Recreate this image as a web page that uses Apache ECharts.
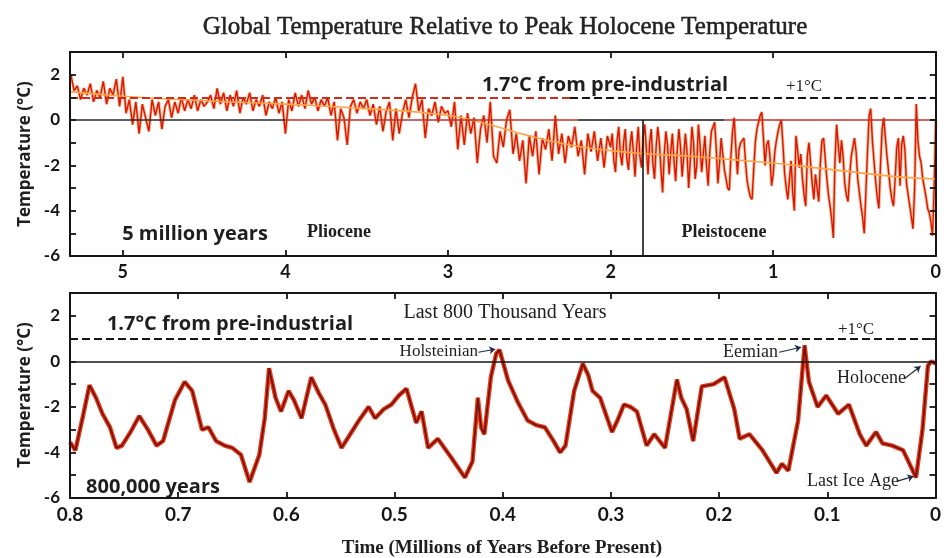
<!DOCTYPE html>
<html><head><meta charset="utf-8">
<script src="https://cdn.jsdelivr.net/npm/echarts@6.0.0/dist/echarts.min.js"></script>
<style>html,body{margin:0;padding:0;background:#fff}#c{width:944px;height:558px;background:#fff}</style>
</head><body><div id="c"></div><script>
// ---------- DATA ----------
// Top panel (5 million years), Pliocene part: ages 5.32 -> 2.02, every 0.02 Myr
const plioStart = 5.32, plioStep = 0.02;
const plioTemps = [
 2.0,1.3,1.5,0.9,1.4,1.1,1.6,0.8,1.3,1.0,1.7,0.7,1.4,1.1,1.8,0.6,1.9,
 0.3,0.9,-0.2,0.8,-0.6,0.7,0.1,-0.5,0.9,0.2,0.8,-0.4,0.6,0.9,0.1,0.8,0.3,1.0,0.4,0.9,0.5,1.1,0.4,0.9,0.6,
 0.8,1.1,0.5,1.4,0.7,1.2,0.4,1.1,0.6,1.3,0.3,1.0,0.7,1.2,0.4,0.9,0.6,1.1,0.2,0.8,0.5,1.0,0.3,0.8,
 -0.6,
 0.9,0.4,1.2,0.6,1.1,0.5,1.3,0.7,1.0,0.4,0.9,0.6,1.0,0.2,0.8,-0.9,0.5,0.1,-1.1,0.6,0.9,0.3,0.8,0.5,
 0.9,0.2,0.7,-0.2,0.6,-0.5,0.4,0.8,-0.9,0.5,-0.6,0.3,0.9,0.1,1.0,1.6,0.4,0.9,-0.8,0.5,0.2,0.8,-0.1,0.6,0.3,
 0.4,-0.3,0.8,-1.3,0.2,-1.1,0.3,-0.6,0.1,-1.9,-0.4,0.2,-1.0,0.8,-1.6,-1.9,-0.5,-1.2,0.0,0.45,-1.5,-0.6,-1.8,-0.9,-2.8,
 -0.7,-1.6,-0.5,-2.4,-0.8,-1.3,-0.4,-1.8,0.2,-1.5,-0.6,-1.9,-0.7,-1.2,-0.3,-1.6,-0.9,-2.4,-0.6,-1.4,-0.5,-1.8,-0.8,-2.1,-0.7
];
// Pleistocene part: ages 2.00 -> 0.00, every 0.01 Myr
const pleiStart = 2.00, pleiStep = 0.01;
const pleiTemps = [
 -1.2,-0.6,-1.8,-2.3,-0.9,-0.3,-1.5,-2.0,-1.0,-0.4,-1.7,-2.2,-1.1,-0.5,-1.4,-2.5,-1.2,-0.3,-1.6,-2.1,
 -0.8,-0.2,-1.3,-2.4,-1.0,-0.4,-1.9,-2.6,-1.2,-0.3,-1.0,-2.2,-3.2,-1.5,-0.5,-1.1,-2.4,-1.4,-0.6,-1.8,
 -2.7,-1.3,-0.4,-1.2,-2.5,-1.6,-0.6,-1.4,-3.0,-1.8,-0.3,-1.0,-2.6,-2.0,-0.2,-1.1,-2.3,-1.5,-0.7,-2.0,
 -2.9,-1.4,-0.5,-0.3,-0.1,-1.3,-2.8,-1.9,-0.8,-1.5,-2.2,-2.6,-3.0,-3.1,-1.6,-0.5,0.1,-1.2,-2.4,-1.3,
 -1.0,-0.9,-0.8,-1.9,-2.7,-3.1,-3.4,-3.5,-2.2,-1.0,-0.4,-0.1,0.2,0.35,-0.8,-2.0,-1.1,-0.9,-1.6,-2.9,
 -2.4,-1.4,-0.9,-0.5,-0.2,0.0,-1.1,-2.3,-3.0,-3.5,-2.6,-1.8,-3.2,-4.0,-0.7,-1.3,-2.1,-1.5,-2.6,-3.3,
 -3.8,-1.6,-1.0,-1.9,-2.8,-3.5,-2.4,-3.0,-3.6,-1.9,-0.9,-0.8,-1.7,-2.6,-3.3,-3.8,-4.4,-5.2,-1.8,-0.2,
 -1.1,-1.9,-0.9,-1.6,-2.8,-3.3,-3.6,-2.5,-1.6,-1.2,-0.8,-1.4,-2.6,-3.2,-3.8,-4.3,-5.0,-3.2,-1.4,0.2,
 0.5,-0.9,-1.8,-2.7,-3.4,-3.9,-2.0,-0.4,0.1,-0.8,-1.6,-2.3,-3.0,-3.5,-3.8,-2.6,-1.2,-0.8,-2.9,-1.1,
 -0.7,-1.3,-2.8,-3.3,-3.8,-4.3,-4.8,-3.0,0.7,-0.9,-1.6,-1.9,-2.6,-3.0,-3.4,-3.9,-4.1,-4.5,-5.1,-3.0,
 0.0
];
// Smoothed trend (top panel)
const trendAges  = [5.325,5.0,4.5,4.0,3.5,3.0,2.75,2.5,2.25,2.0,1.75,1.5,1.25,1.0,0.75,0.5,0.25,0.0];
const trendTemps = [1.25,1.05,0.85,0.7,0.5,0.2,-0.2,-0.7,-1.1,-1.35,-1.5,-1.6,-1.75,-1.9,-2.1,-2.3,-2.5,-2.6];
const pleistoceneStart = 1.8;

// Bottom panel (800,000 years)
const botAges = [0.800,0.795,0.788,0.782,0.776,0.770,0.763,0.757,0.752,0.744,0.736,0.728,0.720,0.714,0.703,0.694,0.687,0.678,0.672,0.665,
 0.657,0.650,0.642,0.634,0.625,0.620,0.616,0.610,0.605,0.598,0.593,0.586,0.577,0.570,0.564,0.556,0.549,0.541,0.533,0.524,
 0.518,0.510,0.503,0.496,0.489,0.480,0.475,0.469,0.460,0.448,0.435,0.428,0.423,0.420,0.417,0.411,0.406,0.403,0.395,0.386,
 0.377,0.369,0.361,0.353,0.347,0.342,0.334,0.326,0.321,0.317,0.310,0.299,0.294,0.288,0.282,0.276,0.267,0.260,0.250,0.239,
 0.235,0.230,0.224,0.216,0.205,0.195,0.186,0.181,0.172,0.160,0.147,0.142,0.136,0.127,0.121,0.117,0.109,0.101,0.090,0.080,
 0.070,0.064,0.055,0.049,0.040,0.030,0.018,0.012,0.007,0.004,0.000];
const botTemps = [-3.55,-3.9,-2.4,-1.05,-1.6,-2.3,-2.9,-3.8,-3.7,-3.1,-2.4,-3.0,-3.7,-3.5,-1.7,-0.9,-1.3,-3.0,-2.9,-3.5,
 -3.7,-3.8,-4.1,-5.3,-4.1,-2.5,-0.3,-1.6,-2.2,-1.3,-1.7,-2.5,-0.7,-1.4,-1.9,-3.0,-3.8,-3.2,-2.6,-2.0,
 -2.5,-2.1,-1.9,-1.5,-1.2,-2.7,-2.2,-3.8,-3.4,-4.2,-5.1,-4.4,-1.6,-2.9,-3.2,-0.7,0.35,0.5,-0.85,-1.8,
 -2.6,-2.8,-2.9,-3.5,-4.0,-3.7,-1.3,-0.1,-0.6,-1.3,-1.6,-3.1,-2.6,-1.9,-2.0,-2.2,-3.7,-3.2,-3.8,-0.8,
 -1.6,-2.1,-3.5,-1.1,-1.0,-0.7,-2.1,-3.4,-3.2,-3.9,-4.9,-4.5,-4.8,-2.6,0.7,-0.9,-2.0,-1.5,-2.3,-1.9,
 -3.2,-3.7,-3.1,-3.6,-3.7,-3.9,-5.1,-3.0,-0.2,0.0,-0.1];

const preIndustrialLevel = 1; // dashed line (+1°C)

// ---------- BUILD ----------
const topData = [];
plioTemps.forEach((t,i)=>topData.push([+(plioStart - plioStep*i).toFixed(3), t]));
pleiTemps.forEach((t,i)=>topData.push([+(pleiStart - pleiStep*i).toFixed(3), t]));
const trendData = trendAges.map((a,i)=>[a, trendTemps[i]]);
const botData = botAges.map((a,i)=>[a, botTemps[i]]);

const SANS = '"Open Sans", "Lato", sans-serif';
const SERIF = '"Liberation Serif", "DejaVu Serif", serif';
const INK = '#151515';

const mkTick = () => ({show:true, inside:true, length:6, lineStyle:{color:INK, width:1.8}});
const mkMinor = () => ({show:true, splitNumber:2, length:6, lineStyle:{color:INK, width:1.8}});
const mkLine = () => ({show:true, onZero:false, lineStyle:{color:INK, width:2}});
const labelFont = {color:INK, fontFamily:'Lato', fontWeight:'bold'};
function xAxis(grid, pos, max, interval, labels) {
  return {type:'value', gridIndex:grid, position:pos, min:0, max:max, interval:interval, inverse:true,
    zlevel:1, z:20,
    axisLine:mkLine(), splitLine:{show:false}, axisTick:mkTick(),
    axisLabel:Object.assign({show:labels, margin:7, fontSize: grid===0?18:19, showMaxLabel: grid!==0,
      formatter: v => { const r = Math.round(v*10)/10; return grid===0 ? String(Math.round(v)) : (r===0 ? '0' : r.toFixed(1)); }}, labelFont)};
}
function yAxis(grid, pos, labels) {
  return {type:'value', gridIndex:grid, position:pos, min:-6, max:3, interval:2,
    zlevel:1, z:20,
    axisLine:mkLine(), splitLine:{show:false}, axisTick:mkTick(), minorTick:mkMinor(), minorSplitLine:{show:false},
    axisLabel:Object.assign({show:labels, margin:10, fontSize:17, showMaxLabel:false}, labelFont)};
}

const chart = echarts.init(document.getElementById('c'));

const hline = (x0,x1,y,color,type,width)=>[{coord:[x0,y], lineStyle:{color,type,width}},{coord:[x1,y]}];
const arrow = (a0,t0,a1,t1)=>[{coord:[a0,t0]},{coord:[a1,t1]}];
const txt = (x,y,text,font,align,rot)=>({type:'text', x, y, z:50, rotation:rot||0,
  style:{text, font, fill:'#1e1e1e', align:align||'center', verticalAlign:'middle'}});

const option = {
  animation:false,
  grid:[
    {left:70, top:52, width:869, height:204, show:false},
    {left:70, top:293, width:869, height:205, show:false}
  ],
  xAxis:[ xAxis(0,'bottom',5.325,1,true), xAxis(0,'top',5.325,1,false),
          xAxis(1,'bottom',0.8,0.1,true), xAxis(1,'top',0.8,0.1,false) ],
  yAxis:[ yAxis(0,'left',true), yAxis(0,'right',false),
          yAxis(1,'left',true), yAxis(1,'right',false) ],
  series:[
    {type:'line', xAxisIndex:0, yAxisIndex:0, data:trendData, showSymbol:false, silent:true, z:1,
     lineStyle:{opacity:0},
     markLine:{silent:true, symbol:['none','none'], label:{show:false}, animation:false, data:[
       hline(5.325,2.25,preIndustrialLevel,'#d42a1a','dashed',2),
       hline(2.25,0,preIndustrialLevel,INK,'dashed',2),
       hline(5.325,4.0,0,'#2a2a2a','solid',1.6),
       hline(4.0,2.2,0,'#c0302a','solid',1.6),
       hline(2.2,1.3,0,INK,'solid',1.6),
       hline(1.3,0,0,'#c0302a','solid',1.6),
       [{coord:[pleistoceneStart,0], lineStyle:{color:INK,type:'solid',width:1.6}},{coord:[pleistoceneStart,-6]}]
     ]}},
    {type:'line', xAxisIndex:0, yAxisIndex:0, data:topData, showSymbol:false, z:2,
     lineStyle:{color:'#ff7a30', width:3.2, opacity:0.55}},
    {type:'line', xAxisIndex:0, yAxisIndex:0, data:topData, showSymbol:false, z:3,
     lineStyle:{color:'#d41808', width:1.4}},
    {type:'line', xAxisIndex:0, yAxisIndex:0, data:trendData, showSymbol:false, smooth:true, z:4,
     lineStyle:{color:'#ffa347', width:1.6}},
    {type:'line', xAxisIndex:2, yAxisIndex:2, data:botData, showSymbol:false, z:2,
     lineStyle:{color:'#f23a16', width:4.4},
     markLine:{silent:true, symbol:['none','none'], label:{show:false}, animation:false, data:[
       hline(0.8,0,preIndustrialLevel,INK,'dashed',2),
       hline(0.8,0,0,INK,'solid',1.6)
     ]}},
    {type:'line', xAxisIndex:2, yAxisIndex:2, data:botData, showSymbol:false, z:3,
     lineStyle:{color:'#6e1510', width:1.8},
     markLine:{silent:true, symbol:['none','arrow'], symbolSize:6, label:{show:false}, animation:false,
       lineStyle:{color:'#1c2a4a', type:'solid', width:1.2}, data:[
       arrow(0.4226,0.40,0.4069,0.53),
       arrow(0.1445,0.40,0.1243,0.62),
       arrow(0.0285,-0.75,0.0138,-0.22),
       arrow(0.0359,-5.27,0.0203,-5.05)
     ]}}
  ],
  graphic:[
    {type:'text', x:505, y:27, z:50, style:{text:'Global Temperature Relative to Peak Holocene Temperature', font:'25px '+SERIF, fill:'#222', stroke:'#222', lineWidth:0.5, align:'center', verticalAlign:'middle'}},
    txt(25,154,'Temperature (°C)','bold 17px '+SANS,'center',Math.PI/2),
    txt(25,395,'Temperature (°C)','bold 17px '+SANS,'center',Math.PI/2),
    txt(502,548,'Time (Millions of Years Before Present)','bold 19px '+SERIF),
    txt(605,85,'1.7°C from pre-industrial','bold 20px '+SANS),
    txt(804,87,'+1°C','17px '+SERIF),
    txt(195,234,'5 million years','bold 20px '+SANS),
    txt(339,232,'Pliocene','bold 18px '+SERIF),
    txt(724,232,'Pleistocene','bold 18px '+SERIF),
    txt(230,324,'1.7°C from pre-industrial','bold 20px '+SANS),
    txt(505,313,'Last 800 Thousand Years','20px '+SERIF),
    txt(856,330,'+1°C','17px '+SERIF),
    txt(478,352,'Holsteinian','17px '+SERIF,'right'),
    txt(778,352,'Eemian','18px '+SERIF,'right'),
    txt(906,378,'Holocene','18px '+SERIF,'right'),
    txt(899,481,'Last Ice Age','18px '+SERIF,'right'),
    txt(153,487,'800,000 years','bold 20px '+SANS)
  ]
};
chart.setOption(option);
</script></body></html>
